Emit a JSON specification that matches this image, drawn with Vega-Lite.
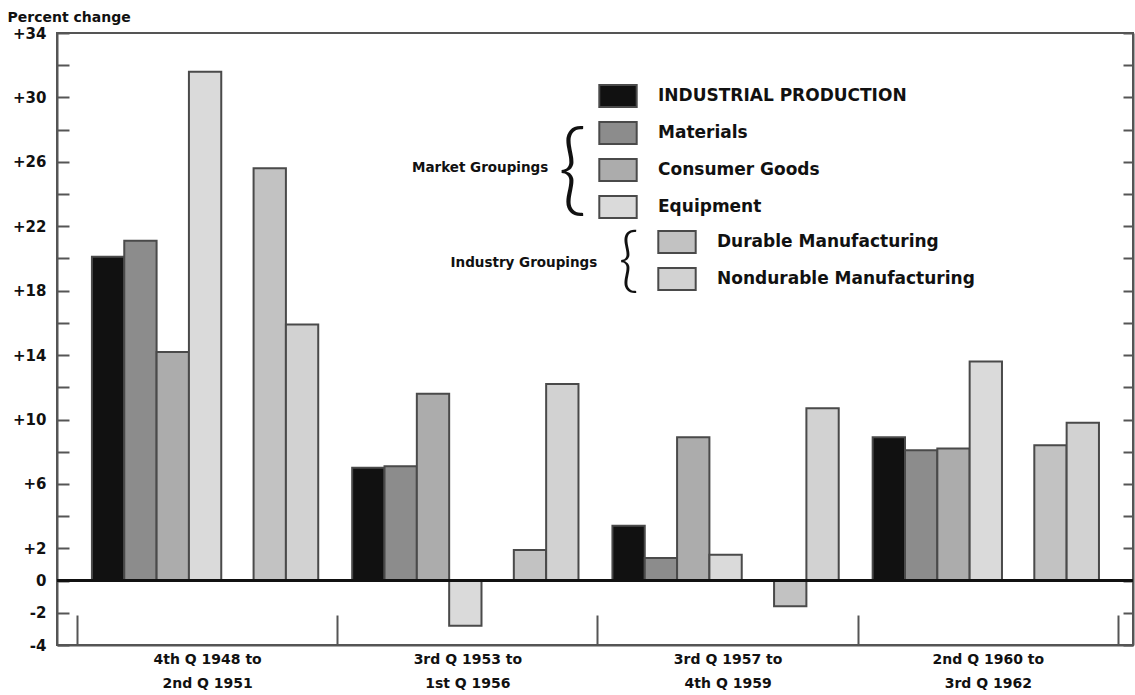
{
  "$schema": "https://vega.github.io/schema/vega-lite/v6.json",
  "width": 1076,
  "height": 612,
  "autosize": {"type": "none"},
  "padding": {"left": 57, "top": 33, "right": 2, "bottom": 50},
  "background": "white",
  "config": {
    "view": {"stroke": "#555555", "strokeWidth": 2},
    "font": "DejaVu Sans",
    "axis": {"domainColor": "#555555", "domainWidth": 2, "tickColor": "#555555", "tickWidth": 2, "labelFont": "DejaVu Sans", "labelFontWeight": "bold", "labelColor": "#111111", "grid": false}
  },
  "data": {
    "values": [
      {"period": "4th Q 1948 to|2nd Q 1951", "series": "INDUSTRIAL PRODUCTION", "change": 20.1},
      {"period": "4th Q 1948 to|2nd Q 1951", "series": "Materials", "change": 21.1},
      {"period": "4th Q 1948 to|2nd Q 1951", "series": "Consumer Goods", "change": 14.2},
      {"period": "4th Q 1948 to|2nd Q 1951", "series": "Equipment", "change": 31.6},
      {"period": "4th Q 1948 to|2nd Q 1951", "series": "Durable Manufacturing", "change": 25.6},
      {"period": "4th Q 1948 to|2nd Q 1951", "series": "Nondurable Manufacturing", "change": 15.9},
      {"period": "3rd Q 1953 to|1st Q 1956", "series": "INDUSTRIAL PRODUCTION", "change": 7.0},
      {"period": "3rd Q 1953 to|1st Q 1956", "series": "Materials", "change": 7.1},
      {"period": "3rd Q 1953 to|1st Q 1956", "series": "Consumer Goods", "change": 11.6},
      {"period": "3rd Q 1953 to|1st Q 1956", "series": "Equipment", "change": -2.8},
      {"period": "3rd Q 1953 to|1st Q 1956", "series": "Durable Manufacturing", "change": 1.9},
      {"period": "3rd Q 1953 to|1st Q 1956", "series": "Nondurable Manufacturing", "change": 12.2},
      {"period": "3rd Q 1957 to|4th Q 1959", "series": "INDUSTRIAL PRODUCTION", "change": 3.4},
      {"period": "3rd Q 1957 to|4th Q 1959", "series": "Materials", "change": 1.4},
      {"period": "3rd Q 1957 to|4th Q 1959", "series": "Consumer Goods", "change": 8.9},
      {"period": "3rd Q 1957 to|4th Q 1959", "series": "Equipment", "change": 1.6},
      {"period": "3rd Q 1957 to|4th Q 1959", "series": "Durable Manufacturing", "change": -1.6},
      {"period": "3rd Q 1957 to|4th Q 1959", "series": "Nondurable Manufacturing", "change": 10.7},
      {"period": "2nd Q 1960 to|3rd Q 1962", "series": "INDUSTRIAL PRODUCTION", "change": 8.9},
      {"period": "2nd Q 1960 to|3rd Q 1962", "series": "Materials", "change": 8.1},
      {"period": "2nd Q 1960 to|3rd Q 1962", "series": "Consumer Goods", "change": 8.2},
      {"period": "2nd Q 1960 to|3rd Q 1962", "series": "Equipment", "change": 13.6},
      {"period": "2nd Q 1960 to|3rd Q 1962", "series": "Durable Manufacturing", "change": 8.4},
      {"period": "2nd Q 1960 to|3rd Q 1962", "series": "Nondurable Manufacturing", "change": 9.8}
    ]
  },
  "layer": [
    {
      "transform": [{"filter": "indexof(['INDUSTRIAL PRODUCTION','Materials','Consumer Goods','Equipment'], datum.series) >= 0"}],
      "mark": {"type": "bar", "stroke": "#4a4a4a", "strokeWidth": 2},
      "encoding": {
        "x": {
          "field": "period", "type": "nominal", "sort": null,
          "scale": {"domain": ["4th Q 1948 to|2nd Q 1951", "3rd Q 1953 to|1st Q 1956", "3rd Q 1957 to|4th Q 1959", "2nd Q 1960 to|3rd Q 1962"], "paddingInner": 0, "paddingOuter": 0.0673, "align": 0.571},
          "axis": {"orient": "bottom", "title": null, "labelAngle": 0, "tickBand": "extent", "tickSize": -30, "labelPadding": 37, "labelExpr": "split(datum.label, '|')", "labelFontSize": 14, "labelLineHeight": 24, "labelBaseline": "top"}
        },
        "xOffset": {
          "field": "series", "type": "nominal",
          "scale": {"domain": ["INDUSTRIAL PRODUCTION", "Materials", "Consumer Goods", "Equipment", "gap", "Durable Manufacturing", "Nondurable Manufacturing"], "paddingInner": 0, "paddingOuter": 0.525, "align": 0.44}
        },
        "y": {
          "field": "change", "type": "quantitative",
          "scale": {"domain": [-4, 34], "nice": false, "zero": false},
          "axis": {
            "values": [-4, -2, 0, 2, 4, 6, 8, 10, 12, 14, 16, 18, 20, 22, 24, 26, 28, 30, 32, 34],
            "labelExpr": "indexof([-4,-2,0,2,6,10,14,18,22,26,30,34], datum.value) >= 0 ? (datum.value > 0 ? '+' + datum.value : '' + datum.value) : ''",
            "tickSize": -12, "labelPadding": 23, "labelFontSize": 15,
            "title": "Percent change", "titleAngle": 0, "titleAlign": "left", "titleBaseline": "middle",
            "titleX": -50, "titleY": -16, "titleFontSize": 14, "titleFontWeight": "bold", "titleColor": "#111111"
          }
        },
        "fill": {
          "field": "series", "type": "nominal",
          "scale": {"domain": ["INDUSTRIAL PRODUCTION", "Materials", "Consumer Goods", "Equipment"], "range": ["#111111", "#8c8c8c", "#acacac", "#dadada"]},
          "legend": {"orient": "none", "legendX": 549, "legendY": 51, "title": null, "symbolType": "M-1.7,-1H1.7V1H-1.7Z", "symbolSize": 484, "symbolStrokeColor": "#4a4a4a", "symbolStrokeWidth": 2, "symbolOpacity": 1, "labelFontSize": 17, "labelFontWeight": "bold", "labelFont": "DejaVu Sans", "labelColor": "#111111", "labelOffset": 28, "labelLimit": 500, "rowPadding": 7}
        }
      }
    },
    {
      "transform": [{"filter": "indexof(['Durable Manufacturing','Nondurable Manufacturing'], datum.series) >= 0"}],
      "mark": {"type": "bar", "stroke": "#4a4a4a", "strokeWidth": 2},
      "encoding": {
        "x": {"field": "period", "type": "nominal", "sort": null},
        "xOffset": {"field": "series", "type": "nominal"},
        "y": {"field": "change", "type": "quantitative", "axis": null},
        "color": {
          "field": "series", "type": "nominal",
          "scale": {"domain": ["Durable Manufacturing", "Nondurable Manufacturing"], "range": ["#c2c2c2", "#d2d2d2"]},
          "legend": {"orient": "none", "legendX": 608, "legendY": 197, "title": null, "symbolType": "M-1.7,-1H1.7V1H-1.7Z", "symbolSize": 484, "symbolStrokeColor": "#4a4a4a", "symbolStrokeWidth": 2, "symbolOpacity": 1, "labelFontSize": 17, "labelFontWeight": "bold", "labelFont": "DejaVu Sans", "labelColor": "#111111", "labelOffset": 28, "labelLimit": 500, "rowPadding": 7}
        }
      }
    },
    {
      "data": {"values": [{}]},
      "mark": {"type": "rule", "color": "#111111", "strokeWidth": 3},
      "encoding": {
        "y": {"datum": 0, "type": "quantitative", "axis": {"orient": "right", "values": [-4, -2, 0, 2, 4, 6, 8, 10, 12, 14, 16, 18, 20, 22, 24, 26, 28, 30, 32, 34], "labels": false, "tickSize": -10, "title": null}}
      }
    },
    {
      "data": {"values": [{}]},
      "mark": {"type": "text", "align": "right", "baseline": "middle", "fontSize": 13.5, "fontWeight": "bold", "color": "#111111", "dx": -14},
      "encoding": {
        "x": {"datum": "3rd Q 1953 to|1st Q 1956"},
        "xOffset": {"datum": "Nondurable Manufacturing"},
        "y": {"datum": 25.6, "type": "quantitative", "axis": null},
        "text": {"value": "Market Groupings"}
      }
    },
    {
      "data": {"values": [{}]},
      "mark": {"type": "text", "align": "right", "baseline": "middle", "fontSize": 13.5, "fontWeight": "bold", "color": "#111111", "dx": 35},
      "encoding": {
        "x": {"datum": "3rd Q 1953 to|1st Q 1956"},
        "xOffset": {"datum": "Nondurable Manufacturing"},
        "y": {"datum": 19.7, "type": "quantitative", "axis": null},
        "text": {"value": "Industry Groupings"}
      }
    },
    {
      "data": {"values": [{}]},
      "mark": {"type": "text", "align": "center", "baseline": "middle", "fontSize": 100, "fontWeight": 300, "font": "Lato", "color": "#111111", "dx": 10},
      "encoding": {
        "x": {"datum": "3rd Q 1953 to|1st Q 1956"},
        "xOffset": {"datum": "Nondurable Manufacturing"},
        "y": {"datum": 25.3, "type": "quantitative", "axis": null},
        "text": {"value": "{"}
      }
    },
    {
      "data": {"values": [{}]},
      "mark": {"type": "text", "align": "center", "baseline": "middle", "fontSize": 70, "fontWeight": 300, "font": "Lato", "color": "#111111"},
      "encoding": {
        "x": {"datum": "3rd Q 1957 to|4th Q 1959"},
        "xOffset": {"datum": "INDUSTRIAL PRODUCTION"},
        "y": {"datum": 19.75, "type": "quantitative", "axis": null},
        "text": {"value": "{"}
      }
    }
  ],
  "resolve": {"axis": {"y": "independent"}}
}
